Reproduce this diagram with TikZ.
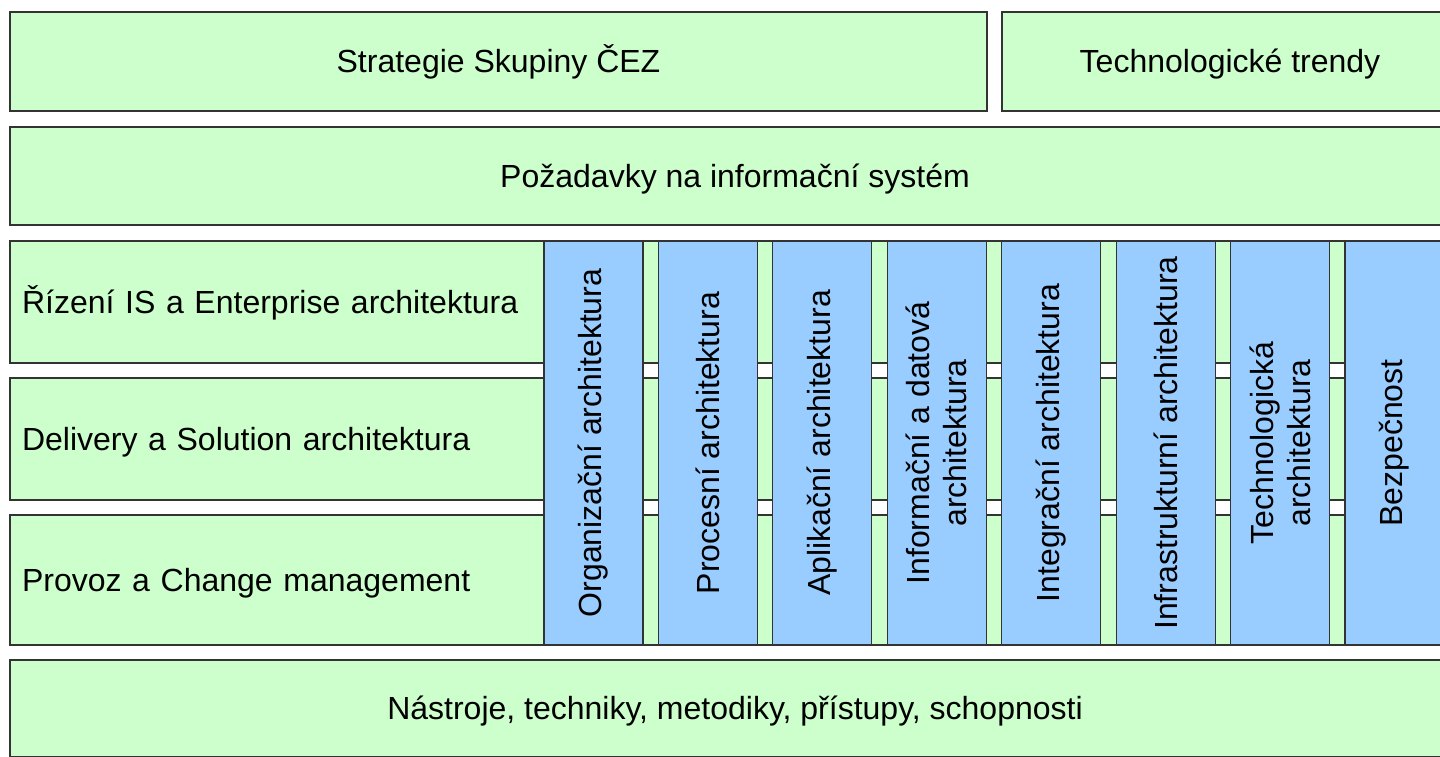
\documentclass[tikz,border=0pt]{standalone}
\usepackage{fontspec}
\setmainfont{Liberation Sans}
\usetikzlibrary{shadows}
\definecolor{boxgreen}{HTML}{CCFFCC}
\definecolor{boxblue}{HTML}{99CCFF}
\definecolor{edge}{HTML}{333333}
\begin{document}
\begin{tikzpicture}[x=1pt,y=-1pt,
  every node/.style={font=\fontsize{32}{37}\selectfont},
  boxbase/.style={rectangle, draw=edge, line width=1.1pt, inner sep=0pt,
    drop shadow={shadow xshift=0.6pt, shadow yshift=-1.4pt, fill=black!45, opacity=1}},
  greenbox/.style={boxbase, fill=boxgreen, text height=23pt, text depth=1pt},
  rowbox/.style={greenbox, minimum width=1450pt, text width=1426pt, align=left},
  bluebox/.style={boxbase, fill=boxblue, minimum width=99pt, minimum height=404pt},
  coltext/.style={rotate=90, align=center, inner sep=0pt}
]
\useasboundingbox (0,0) rectangle (1440,756);
\clip (0,0) rectangle (1440,756);
\fill[white] (0,0) rectangle (1440,756);
\node[greenbox, minimum width=977pt, minimum height=99pt] (strat) at (498.5,61.5) {Strategie Skupiny ČEZ};
\node[greenbox, minimum width=456pt, minimum height=99pt] (trend) at (1230,61.5) {Technologické trendy};
\node[greenbox, minimum width=1450pt, minimum height=98pt] (poz) at (735,176) {Požadavky na informační systém};
\node[rowbox, minimum height=122pt] (rizeni) at (735,302) {Řízení IS a Enterprise architektura};
\node[rowbox, minimum height=122pt] (deliv) at (735,439) {Delivery a Solution architektura};
\node[rowbox, minimum height=130pt] (provoz) at (735,580) {Provoz a Change management};
\node[greenbox, minimum width=1450pt, minimum height=97pt] (nastr) at (735,708.5) {Nástroje, techniky, metodiky, přístupy, schopnosti};
\foreach [count=\i from 0] \t in {{Organizační architektura},{Procesní architektura},{Aplikační architektura},{Informační a datová\\architektura},{Integrační architektura},{Infrastrukturní architektura},{Technologická\\architektura},{Bezpečnost}}{
  \node[bluebox] (col\i) at ({593.5+\i*114.43},443) {};
  \node[coltext] (colt\i) at (col\i.center) {\t};
}
\end{tikzpicture}
\end{document}
